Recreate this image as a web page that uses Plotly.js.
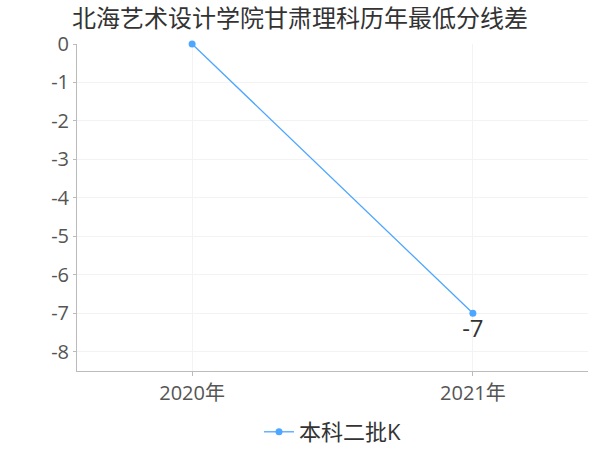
<!DOCTYPE html>
<html><head><meta charset="utf-8">
<script src="https://cdn.plot.ly/plotly-3.0.1.min.js"></script>
<style>html,body{margin:0;padding:0;background:#fff}#c{width:600px;height:450px}</style>
</head><body><div id="c"></div>
<script>
const categories = ["2020年", "2021年"];
const values = [0, -7];
const pointLabels = ["", "-7"];
const seriesName = "本科二批K";
const yTickVals = [0, -1, -2, -3, -4, -5, -6, -7, -8];
const yTickText = ["0", "-1", "-2", "-3", "-4", "-5", "-6", "-7", "-8"];
const titleText = "北海艺术设计学院甘肃理科历年最低分线差";

const font = "Open Sans, Noto Sans CJK SC, sans-serif";
Plotly.newPlot("c", [{
  x: categories, y: values, name: seriesName, type: "scatter", mode: "lines+markers+text",
  text: pointLabels, textposition: "bottom center",
  textfont: {size: 24, color: "#333", family: font},
  line: {color: "#4da6ff", width: 1.3},
  marker: {color: "#4da6ff", size: 7},
  cliponaxis: false
}], {
  width: 600, height: 450,
  margin: {l: 77, r: 12, t: 44, b: 79, autoexpand: false},
  paper_bgcolor: "#fff", plot_bgcolor: "#fff",
  font: {family: font, color: "#555"},
  title: {text: titleText, x: 0.5, xanchor: "center", y: 0.958, yanchor: "middle", font: {size: 24, color: "#333", family: font}},
  showlegend: true,
  legend: {orientation: "h", x: 0.5, xanchor: "center", yref: "container", y: 0.04, yanchor: "middle", font: {size: 22, color: "#333", family: font}},
  xaxis: {type: "category", range: [-0.41, 1.41], showline: true, linecolor: "#bbb", linewidth: 1,
    showgrid: true, gridcolor: "#f3f3f3", ticks: "outside", ticklen: 4, tickcolor: "#bbb",
    tickfont: {size: 20, color: "#555"}, zeroline: false, fixedrange: true, automargin: false},
  yaxis: {range: [-8.5, 0], tickvals: yTickVals, ticktext: yTickText, showline: true, linecolor: "#bbb",
    linewidth: 1, showgrid: true, gridcolor: "#f3f3f3", ticks: "outside", ticklen: 3, tickcolor: "#bbb",
    tickfont: {size: 20, color: "#555"}, zeroline: false, fixedrange: true, automargin: false}
}, {displayModeBar: false, staticPlot: true});
</script></body></html>
